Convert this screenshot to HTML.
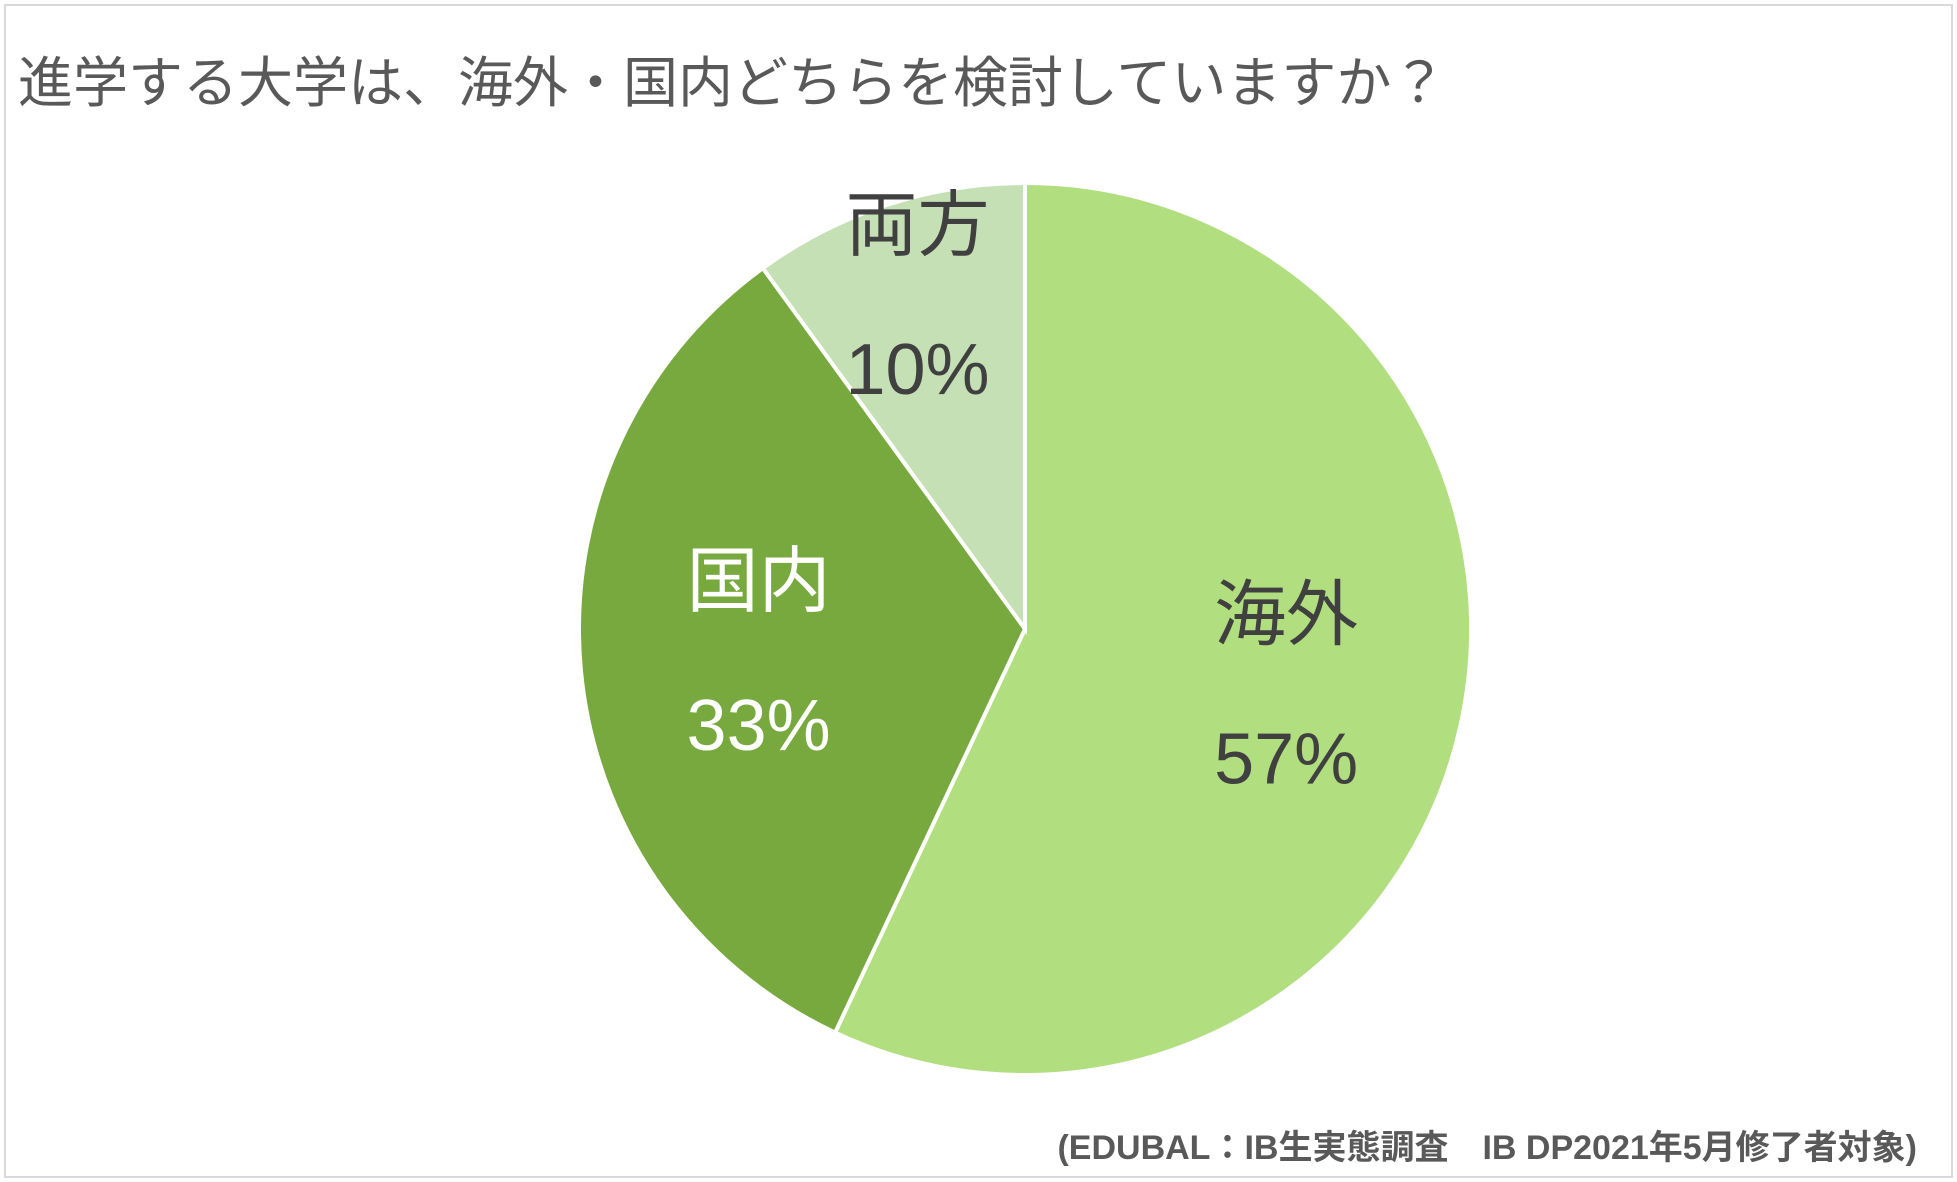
<!DOCTYPE html>
<html><head><meta charset="utf-8">
<style>
html,body{margin:0;padding:0;background:#fff;}
#wrap{position:relative;width:1957px;height:1182px;overflow:hidden;font-family:"Liberation Sans","Noto Sans CJK JP",sans-serif;}
#frame{position:absolute;left:4px;top:4px;width:1945px;height:1170px;border:2px solid #d9d9d9;}
#title{position:absolute;left:18px;top:38px;font-size:55px;color:#595959;white-space:nowrap;}
#foot{position:absolute;right:40px;top:1120px;font-size:34px;color:#595959;font-weight:bold;white-space:nowrap;}
</style></head>
<body>
<div id="wrap">
<div id="frame"></div>
<div id="title">進学する大学は、海外・国内どちらを検討していますか？</div>
<svg id="pie" width="1957" height="1182" style="position:absolute;left:0;top:0"></svg>
<div id="foot">(EDUBAL：IB生実態調査　IB DP2021年5月修了者対象)</div>
</div>
<script>
const categories = ["海外","国内","両方"];
const values = [57,33,10];
const labels = ["57%","33%","10%"];
const colors = ["#b1de7f","#78a93e","#c5e0b4"];
const textColors = ["#404040","#ffffff","#404040"];
const cx=1025, cy=629, r=446;
const svg=document.getElementById('pie');
const NS="http://www.w3.org/2000/svg";
const total=values.reduce((a,b)=>a+b,0);
let acc=0;
values.forEach((v,i)=>{
  const a0=acc/total*2*Math.PI, a1=(acc+v)/total*2*Math.PI; acc+=v;
  const x0=cx+r*Math.sin(a0), y0=cy-r*Math.cos(a0), x1=cx+r*Math.sin(a1), y1=cy-r*Math.cos(a1);
  const p=document.createElementNS(NS,'path');
  p.setAttribute('d',`M${cx},${cy} L${x0},${y0} A${r},${r} 0 ${(a1-a0)>Math.PI?1:0} 1 ${x1},${y1} Z`);
  p.setAttribute('fill',colors[i]);p.setAttribute('stroke','#fff');p.setAttribute('stroke-width','4');
  
  
  svg.appendChild(p);
  const am=(a0+a1)/2, lr=r*(i===2?0.78:0.6);
  const lx=cx+lr*Math.sin(am), ly=cy-lr*Math.cos(am);
  [[categories[i],-72],[labels[i],72]].forEach(([t,dy],k)=>{
    const tx=document.createElementNS(NS,'text');
    tx.setAttribute('x',lx);tx.setAttribute('y',ly+dy);
    tx.setAttribute('text-anchor','middle');tx.setAttribute('dominant-baseline','central');
    tx.setAttribute('font-size','72');tx.setAttribute('fill',textColors[i]);
    tx.setAttribute('font-family','"Liberation Sans","Noto Sans CJK JP",sans-serif');
    tx.textContent=t;
    
    
    svg.appendChild(tx);
  });
});
</script>
</body></html>
